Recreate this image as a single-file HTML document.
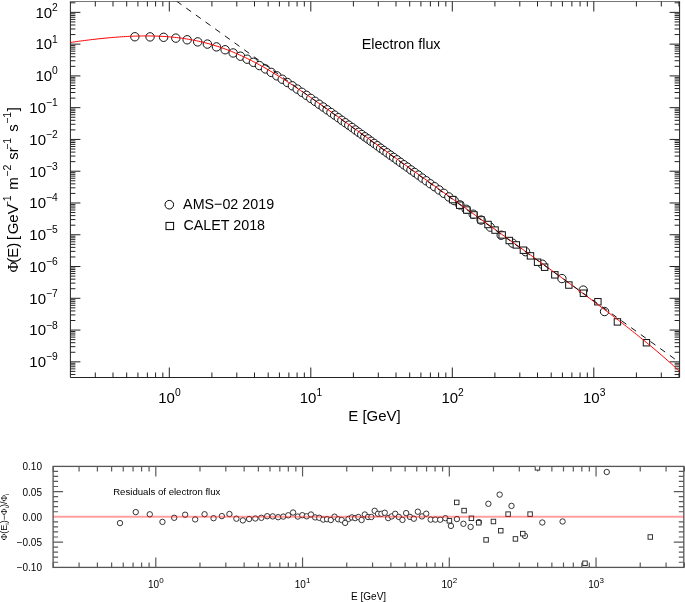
<!DOCTYPE html>
<html><head><meta charset="utf-8"><style>
html,body{margin:0;padding:0;background:#fff;}
svg{display:block;will-change:transform;}
</style></head><body>
<svg width="685" height="602" viewBox="0 0 685 602">
<rect width="685" height="602" fill="#fff"/>
<path d="M70.4 1.5V377.5H679.6V1.5" fill="none" stroke="#222" stroke-width="1"/>
<path d="M69.9 1.5H680.1" fill="none" stroke="#777" stroke-width="1"/>
<path d="M169.3 377.5v-10M169.3 1.5v10M310.8 377.5v-10M310.8 1.5v10M452.3 377.5v-10M452.3 1.5v10M593.8 377.5v-10M593.8 1.5v10M95.31 377.5v-5M95.31 1.5v5M112.99 377.5v-5M112.99 1.5v5M126.7 377.5v-5M126.7 1.5v5M137.91 377.5v-5M137.91 1.5v5M147.38 377.5v-5M147.38 1.5v5M155.59 377.5v-5M155.59 1.5v5M162.83 377.5v-5M162.83 1.5v5M211.9 377.5v-5M211.9 1.5v5M236.81 377.5v-5M236.81 1.5v5M254.49 377.5v-5M254.49 1.5v5M268.2 377.5v-5M268.2 1.5v5M279.41 377.5v-5M279.41 1.5v5M288.88 377.5v-5M288.88 1.5v5M297.09 377.5v-5M297.09 1.5v5M304.33 377.5v-5M304.33 1.5v5M353.4 377.5v-5M353.4 1.5v5M378.31 377.5v-5M378.31 1.5v5M395.99 377.5v-5M395.99 1.5v5M409.7 377.5v-5M409.7 1.5v5M420.91 377.5v-5M420.91 1.5v5M430.38 377.5v-5M430.38 1.5v5M438.59 377.5v-5M438.59 1.5v5M445.83 377.5v-5M445.83 1.5v5M494.9 377.5v-5M494.9 1.5v5M519.81 377.5v-5M519.81 1.5v5M537.49 377.5v-5M537.49 1.5v5M551.2 377.5v-5M551.2 1.5v5M562.41 377.5v-5M562.41 1.5v5M571.88 377.5v-5M571.88 1.5v5M580.09 377.5v-5M580.09 1.5v5M587.33 377.5v-5M587.33 1.5v5M636.4 377.5v-5M636.4 1.5v5M661.31 377.5v-5M661.31 1.5v5M678.99 377.5v-5M678.99 1.5v5M70.4 361.83h10M679.6 361.83h-10M70.4 330.06h10M679.6 330.06h-10M70.4 298.29h10M679.6 298.29h-10M70.4 266.52h10M679.6 266.52h-10M70.4 234.75h10M679.6 234.75h-10M70.4 202.98h10M679.6 202.98h-10M70.4 171.21h10M679.6 171.21h-10M70.4 139.44h10M679.6 139.44h-10M70.4 107.67h10M679.6 107.67h-10M70.4 75.9h10M679.6 75.9h-10M70.4 44.13h10M679.6 44.13h-10M70.4 12.36h10M679.6 12.36h-10M70.4 374.47h5M679.6 374.47h-5M70.4 371.39h5M679.6 371.39h-5M70.4 368.88h5M679.6 368.88h-5M70.4 366.75h5M679.6 366.75h-5M70.4 364.91h5M679.6 364.91h-5M70.4 363.28h5M679.6 363.28h-5M70.4 352.27h5M679.6 352.27h-5M70.4 346.67h5M679.6 346.67h-5M70.4 342.7h5M679.6 342.7h-5M70.4 339.62h5M679.6 339.62h-5M70.4 337.11h5M679.6 337.11h-5M70.4 334.98h5M679.6 334.98h-5M70.4 333.14h5M679.6 333.14h-5M70.4 331.51h5M679.6 331.51h-5M70.4 320.5h5M679.6 320.5h-5M70.4 314.9h5M679.6 314.9h-5M70.4 310.93h5M679.6 310.93h-5M70.4 307.85h5M679.6 307.85h-5M70.4 305.34h5M679.6 305.34h-5M70.4 303.21h5M679.6 303.21h-5M70.4 301.37h5M679.6 301.37h-5M70.4 299.74h5M679.6 299.74h-5M70.4 288.73h5M679.6 288.73h-5M70.4 283.13h5M679.6 283.13h-5M70.4 279.16h5M679.6 279.16h-5M70.4 276.08h5M679.6 276.08h-5M70.4 273.57h5M679.6 273.57h-5M70.4 271.44h5M679.6 271.44h-5M70.4 269.6h5M679.6 269.6h-5M70.4 267.97h5M679.6 267.97h-5M70.4 256.96h5M679.6 256.96h-5M70.4 251.36h5M679.6 251.36h-5M70.4 247.39h5M679.6 247.39h-5M70.4 244.31h5M679.6 244.31h-5M70.4 241.8h5M679.6 241.8h-5M70.4 239.67h5M679.6 239.67h-5M70.4 237.83h5M679.6 237.83h-5M70.4 236.2h5M679.6 236.2h-5M70.4 225.19h5M679.6 225.19h-5M70.4 219.59h5M679.6 219.59h-5M70.4 215.62h5M679.6 215.62h-5M70.4 212.54h5M679.6 212.54h-5M70.4 210.03h5M679.6 210.03h-5M70.4 207.9h5M679.6 207.9h-5M70.4 206.06h5M679.6 206.06h-5M70.4 204.43h5M679.6 204.43h-5M70.4 193.42h5M679.6 193.42h-5M70.4 187.82h5M679.6 187.82h-5M70.4 183.85h5M679.6 183.85h-5M70.4 180.77h5M679.6 180.77h-5M70.4 178.26h5M679.6 178.26h-5M70.4 176.13h5M679.6 176.13h-5M70.4 174.29h5M679.6 174.29h-5M70.4 172.66h5M679.6 172.66h-5M70.4 161.65h5M679.6 161.65h-5M70.4 156.05h5M679.6 156.05h-5M70.4 152.08h5M679.6 152.08h-5M70.4 149h5M679.6 149h-5M70.4 146.49h5M679.6 146.49h-5M70.4 144.36h5M679.6 144.36h-5M70.4 142.52h5M679.6 142.52h-5M70.4 140.89h5M679.6 140.89h-5M70.4 129.88h5M679.6 129.88h-5M70.4 124.28h5M679.6 124.28h-5M70.4 120.31h5M679.6 120.31h-5M70.4 117.23h5M679.6 117.23h-5M70.4 114.72h5M679.6 114.72h-5M70.4 112.59h5M679.6 112.59h-5M70.4 110.75h5M679.6 110.75h-5M70.4 109.12h5M679.6 109.12h-5M70.4 98.11h5M679.6 98.11h-5M70.4 92.51h5M679.6 92.51h-5M70.4 88.54h5M679.6 88.54h-5M70.4 85.46h5M679.6 85.46h-5M70.4 82.95h5M679.6 82.95h-5M70.4 80.82h5M679.6 80.82h-5M70.4 78.98h5M679.6 78.98h-5M70.4 77.35h5M679.6 77.35h-5M70.4 66.34h5M679.6 66.34h-5M70.4 60.74h5M679.6 60.74h-5M70.4 56.77h5M679.6 56.77h-5M70.4 53.69h5M679.6 53.69h-5M70.4 51.18h5M679.6 51.18h-5M70.4 49.05h5M679.6 49.05h-5M70.4 47.21h5M679.6 47.21h-5M70.4 45.58h5M679.6 45.58h-5M70.4 34.57h5M679.6 34.57h-5M70.4 28.97h5M679.6 28.97h-5M70.4 25h5M679.6 25h-5M70.4 21.92h5M679.6 21.92h-5M70.4 19.41h5M679.6 19.41h-5M70.4 17.28h5M679.6 17.28h-5M70.4 15.44h5M679.6 15.44h-5M70.4 13.81h5M679.6 13.81h-5M70.4 2.8h5M679.6 2.8h-5" stroke="#222" stroke-width="1" fill="none"/>
<g font-family='"Liberation Sans", sans-serif' fill="#000">
<text x="57.8" y="367.13" font-size="15" text-anchor="end">10<tspan dy="-6.8" font-size="10.3">−9</tspan></text>
<text x="57.8" y="335.36" font-size="15" text-anchor="end">10<tspan dy="-6.8" font-size="10.3">−8</tspan></text>
<text x="57.8" y="303.59" font-size="15" text-anchor="end">10<tspan dy="-6.8" font-size="10.3">−7</tspan></text>
<text x="57.8" y="271.82" font-size="15" text-anchor="end">10<tspan dy="-6.8" font-size="10.3">−6</tspan></text>
<text x="57.8" y="240.05" font-size="15" text-anchor="end">10<tspan dy="-6.8" font-size="10.3">−5</tspan></text>
<text x="57.8" y="208.28" font-size="15" text-anchor="end">10<tspan dy="-6.8" font-size="10.3">−4</tspan></text>
<text x="57.8" y="176.51" font-size="15" text-anchor="end">10<tspan dy="-6.8" font-size="10.3">−3</tspan></text>
<text x="57.8" y="144.74" font-size="15" text-anchor="end">10<tspan dy="-6.8" font-size="10.3">−2</tspan></text>
<text x="57.8" y="112.97" font-size="15" text-anchor="end">10<tspan dy="-6.8" font-size="10.3">−1</tspan></text>
<text x="57.8" y="81.2" font-size="15" text-anchor="end">10<tspan dy="-6.8" font-size="10.3">0</tspan></text>
<text x="57.8" y="49.43" font-size="15" text-anchor="end">10<tspan dy="-6.8" font-size="10.3">1</tspan></text>
<text x="57.8" y="17.66" font-size="15" text-anchor="end">10<tspan dy="-6.8" font-size="10.3">2</tspan></text>
<text x="169.4" y="402.7" font-size="15" text-anchor="middle">10<tspan dy="-7.0" font-size="10.3">0</tspan></text>
<text x="311" y="402.7" font-size="15" text-anchor="middle">10<tspan dy="-7.0" font-size="10.3">1</tspan></text>
<text x="452.6" y="402.7" font-size="15" text-anchor="middle">10<tspan dy="-7.0" font-size="10.3">2</tspan></text>
<text x="594.2" y="402.7" font-size="15" text-anchor="middle">10<tspan dy="-7.0" font-size="10.3">3</tspan></text>
<text x="374.5" y="420.8" font-size="15" text-anchor="middle">E [GeV]</text>
<text x="401.1" y="48.9" font-size="15" text-anchor="middle" textLength="78.9" lengthAdjust="spacingAndGlyphs">Electron flux</text>
<text transform="translate(17.9,189.9) rotate(-90)" font-size="15" text-anchor="middle"><tspan font-family='"Liberation Serif", serif'>Φ</tspan><tspan dx="-1">(E) </tspan><tspan dx="-1.5">[</tspan><tspan dx="1.5">GeV</tspan><tspan dx="-3" dy="-6.7" font-size="10.5">−1</tspan><tspan dx="1.5" dy="6.7"> m</tspan><tspan dx="0.5" dy="-6.7" font-size="10.5">−2</tspan><tspan dx="0.7" dy="6.7"> sr</tspan><tspan dx="-2.5" dy="-6.7" font-size="10.5">−1</tspan><tspan dx="1.8" dy="6.7"> s</tspan><tspan dx="0.5" dy="-6.7" font-size="10.5">−1</tspan><tspan dx="0.5" dy="6.7">]</tspan></text>
<text x="183.1" y="209" font-size="15" textLength="91" lengthAdjust="spacingAndGlyphs">AMS−02 2019</text>
<text x="183.4" y="229.6" font-size="15" textLength="81.7" lengthAdjust="spacingAndGlyphs">CALET 2018</text>
</g>
<circle cx="169.3" cy="204.7" r="4.3" fill="none" stroke="#000" stroke-width="1"/>
<rect x="166" y="222.4" width="7.6" height="7.2" fill="none" stroke="#000" stroke-width="1"/>
<clipPath id="cm"><rect x="70.4" y="1.5" width="609.20" height="376.00"/></clipPath>
<g clip-path="url(#cm)">
<circle cx="134.84" cy="36.76" r="4.2" fill="#fff" stroke="#111" stroke-width="1"/>
<circle cx="150.05" cy="36.89" r="4.2" fill="#fff" stroke="#111" stroke-width="1"/>
<circle cx="163.6" cy="37.31" r="4.2" fill="#fff" stroke="#111" stroke-width="1"/>
<circle cx="175.82" cy="38.13" r="4.2" fill="#fff" stroke="#111" stroke-width="1"/>
<circle cx="187.15" cy="39.79" r="4.2" fill="#fff" stroke="#111" stroke-width="1"/>
<circle cx="197.71" cy="41.88" r="4.2" fill="#fff" stroke="#111" stroke-width="1"/>
<circle cx="207.39" cy="44.09" r="4.2" fill="#fff" stroke="#111" stroke-width="1"/>
<circle cx="216.46" cy="46.89" r="4.2" fill="#fff" stroke="#111" stroke-width="1"/>
<circle cx="225.11" cy="49.76" r="4.2" fill="#fff" stroke="#111" stroke-width="1"/>
<circle cx="233.15" cy="52.96" r="4.2" fill="#fff" stroke="#111" stroke-width="1"/>
<circle cx="240.45" cy="56.18" r="4.2" fill="#fff" stroke="#111" stroke-width="1"/>
<circle cx="247.14" cy="59.2" r="4.2" fill="#fff" stroke="#111" stroke-width="1"/>
<circle cx="253.41" cy="62.32" r="4.2" fill="#fff" stroke="#111" stroke-width="1"/>
<circle cx="259.45" cy="65.59" r="4.2" fill="#fff" stroke="#111" stroke-width="1"/>
<circle cx="265.41" cy="68.95" r="4.2" fill="#fff" stroke="#111" stroke-width="1"/>
<circle cx="271.25" cy="72.4" r="4.2" fill="#fff" stroke="#111" stroke-width="1"/>
<circle cx="276.85" cy="75.86" r="4.2" fill="#fff" stroke="#111" stroke-width="1"/>
<circle cx="282.24" cy="79.23" r="4.2" fill="#fff" stroke="#111" stroke-width="1"/>
<circle cx="287.41" cy="82.54" r="4.2" fill="#fff" stroke="#111" stroke-width="1"/>
<circle cx="292.39" cy="85.83" r="4.2" fill="#fff" stroke="#111" stroke-width="1"/>
<circle cx="297.19" cy="89.07" r="4.2" fill="#fff" stroke="#111" stroke-width="1"/>
<circle cx="301.86" cy="92.31" r="4.2" fill="#fff" stroke="#111" stroke-width="1"/>
<circle cx="306.4" cy="95.32" r="4.2" fill="#fff" stroke="#111" stroke-width="1"/>
<circle cx="310.78" cy="98.39" r="4.2" fill="#fff" stroke="#111" stroke-width="1"/>
<circle cx="315.01" cy="101.31" r="4.2" fill="#fff" stroke="#111" stroke-width="1"/>
<circle cx="319.13" cy="104.25" r="4.2" fill="#fff" stroke="#111" stroke-width="1"/>
<circle cx="323.17" cy="107.02" r="4.2" fill="#fff" stroke="#111" stroke-width="1"/>
<circle cx="327.1" cy="109.8" r="4.2" fill="#fff" stroke="#111" stroke-width="1"/>
<circle cx="330.91" cy="112.45" r="4.2" fill="#fff" stroke="#111" stroke-width="1"/>
<circle cx="334.64" cy="115.12" r="4.2" fill="#fff" stroke="#111" stroke-width="1"/>
<circle cx="338.3" cy="117.7" r="4.2" fill="#fff" stroke="#111" stroke-width="1"/>
<circle cx="341.86" cy="120.34" r="4.2" fill="#fff" stroke="#111" stroke-width="1"/>
<circle cx="345.35" cy="122.76" r="4.2" fill="#fff" stroke="#111" stroke-width="1"/>
<circle cx="348.76" cy="125.18" r="4.2" fill="#fff" stroke="#111" stroke-width="1"/>
<circle cx="352.09" cy="127.48" r="4.2" fill="#fff" stroke="#111" stroke-width="1"/>
<circle cx="355.38" cy="129.94" r="4.2" fill="#fff" stroke="#111" stroke-width="1"/>
<circle cx="358.59" cy="132.29" r="4.2" fill="#fff" stroke="#111" stroke-width="1"/>
<circle cx="361.76" cy="134.53" r="4.2" fill="#fff" stroke="#111" stroke-width="1"/>
<circle cx="364.87" cy="136.79" r="4.2" fill="#fff" stroke="#111" stroke-width="1"/>
<circle cx="367.96" cy="138.93" r="4.2" fill="#fff" stroke="#111" stroke-width="1"/>
<circle cx="371.09" cy="141.31" r="4.2" fill="#fff" stroke="#111" stroke-width="1"/>
<circle cx="374.22" cy="143.49" r="4.2" fill="#fff" stroke="#111" stroke-width="1"/>
<circle cx="377.39" cy="145.76" r="4.2" fill="#fff" stroke="#111" stroke-width="1"/>
<circle cx="380.59" cy="148.22" r="4.2" fill="#fff" stroke="#111" stroke-width="1"/>
<circle cx="383.79" cy="150.44" r="4.2" fill="#fff" stroke="#111" stroke-width="1"/>
<circle cx="387.04" cy="152.76" r="4.2" fill="#fff" stroke="#111" stroke-width="1"/>
<circle cx="390.32" cy="155.15" r="4.2" fill="#fff" stroke="#111" stroke-width="1"/>
<circle cx="393.64" cy="157.38" r="4.2" fill="#fff" stroke="#111" stroke-width="1"/>
<circle cx="396.99" cy="159.83" r="4.2" fill="#fff" stroke="#111" stroke-width="1"/>
<circle cx="400.4" cy="162.34" r="4.2" fill="#fff" stroke="#111" stroke-width="1"/>
<circle cx="403.86" cy="164.74" r="4.2" fill="#fff" stroke="#111" stroke-width="1"/>
<circle cx="407.37" cy="167.17" r="4.2" fill="#fff" stroke="#111" stroke-width="1"/>
<circle cx="410.96" cy="169.93" r="4.2" fill="#fff" stroke="#111" stroke-width="1"/>
<circle cx="414.63" cy="172.46" r="4.2" fill="#fff" stroke="#111" stroke-width="1"/>
<circle cx="418.38" cy="175.1" r="4.2" fill="#fff" stroke="#111" stroke-width="1"/>
<circle cx="422.25" cy="178.06" r="4.2" fill="#fff" stroke="#111" stroke-width="1"/>
<circle cx="426.23" cy="180.79" r="4.2" fill="#fff" stroke="#111" stroke-width="1"/>
<circle cx="430.34" cy="183.81" r="4.2" fill="#fff" stroke="#111" stroke-width="1"/>
<circle cx="434.63" cy="186.73" r="4.2" fill="#fff" stroke="#111" stroke-width="1"/>
<circle cx="439.11" cy="189.94" r="4.2" fill="#fff" stroke="#111" stroke-width="1"/>
<circle cx="443.83" cy="193.32" r="4.2" fill="#fff" stroke="#111" stroke-width="1"/>
<circle cx="448.83" cy="196.95" r="4.2" fill="#fff" stroke="#111" stroke-width="1"/>
<circle cx="454.17" cy="200.57" r="4.2" fill="#fff" stroke="#111" stroke-width="1"/>
<circle cx="459.93" cy="204.9" r="4.2" fill="#fff" stroke="#111" stroke-width="1"/>
<circle cx="466.21" cy="209.28" r="4.2" fill="#fff" stroke="#111" stroke-width="1"/>
<circle cx="473.18" cy="214.2" r="4.2" fill="#fff" stroke="#111" stroke-width="1"/>
<circle cx="481.13" cy="220.05" r="4.2" fill="#fff" stroke="#111" stroke-width="1"/>
<circle cx="490.3" cy="227.14" r="4.2" fill="#fff" stroke="#111" stroke-width="1"/>
<circle cx="501.19" cy="235.23" r="4.2" fill="#fff" stroke="#111" stroke-width="1"/>
<circle cx="512.61" cy="243.17" r="4.2" fill="#fff" stroke="#111" stroke-width="1"/>
<circle cx="525.57" cy="251.7" r="4.2" fill="#fff" stroke="#111" stroke-width="1"/>
<circle cx="542.32" cy="264.23" r="4.2" fill="#fff" stroke="#111" stroke-width="1"/>
<circle cx="561.92" cy="278.56" r="4.2" fill="#fff" stroke="#111" stroke-width="1"/>
<circle cx="583.23" cy="290.1" r="4.2" fill="#fff" stroke="#111" stroke-width="1"/>
<circle cx="604.55" cy="311.57" r="4.2" fill="#fff" stroke="#111" stroke-width="1"/>
<rect x="449.4" y="196.39" width="6.4" height="6.4" fill="#fff" stroke="#111" stroke-width="1"/>
<rect x="456.48" y="201.97" width="6.4" height="6.4" fill="#fff" stroke="#111" stroke-width="1"/>
<rect x="463.56" y="206.83" width="6.4" height="6.4" fill="#fff" stroke="#111" stroke-width="1"/>
<rect x="470.64" y="211.71" width="6.4" height="6.4" fill="#fff" stroke="#111" stroke-width="1"/>
<rect x="477.72" y="216.68" width="6.4" height="6.4" fill="#fff" stroke="#111" stroke-width="1"/>
<rect x="484.8" y="221.29" width="6.4" height="6.4" fill="#fff" stroke="#111" stroke-width="1"/>
<rect x="491.88" y="226.9" width="6.4" height="6.4" fill="#fff" stroke="#111" stroke-width="1"/>
<rect x="498.96" y="231.75" width="6.4" height="6.4" fill="#fff" stroke="#111" stroke-width="1"/>
<rect x="506.04" y="237.31" width="6.4" height="6.4" fill="#fff" stroke="#111" stroke-width="1"/>
<rect x="513.12" y="241.73" width="6.4" height="6.4" fill="#fff" stroke="#111" stroke-width="1"/>
<rect x="520.2" y="247" width="6.4" height="6.4" fill="#fff" stroke="#111" stroke-width="1"/>
<rect x="527.28" y="252.67" width="6.4" height="6.4" fill="#fff" stroke="#111" stroke-width="1"/>
<rect x="534.36" y="259.01" width="6.4" height="6.4" fill="#fff" stroke="#111" stroke-width="1"/>
<rect x="541.44" y="264" width="6.4" height="6.4" fill="#fff" stroke="#111" stroke-width="1"/>
<rect x="551.64" y="271.65" width="6.4" height="6.4" fill="#fff" stroke="#111" stroke-width="1"/>
<rect x="565.65" y="281.85" width="6.4" height="6.4" fill="#fff" stroke="#111" stroke-width="1"/>
<rect x="580.24" y="290.03" width="6.4" height="6.4" fill="#fff" stroke="#111" stroke-width="1"/>
<rect x="594.68" y="298.55" width="6.4" height="6.4" fill="#fff" stroke="#111" stroke-width="1"/>
<rect x="614.22" y="318.7" width="6.4" height="6.4" fill="#fff" stroke="#111" stroke-width="1"/>
<rect x="643.25" y="339.54" width="6.4" height="6.4" fill="#fff" stroke="#111" stroke-width="1"/>
<polyline points="70.43,42.44 72.46,42.14 74.5,41.86 76.54,41.57 78.57,41.29 80.61,41.02 82.65,40.75 84.68,40.49 86.72,40.23 88.76,39.97 90.79,39.73 92.83,39.48 94.87,39.25 96.91,39.02 98.94,38.79 100.98,38.58 103.02,38.37 105.05,38.16 107.09,37.97 109.13,37.78 111.16,37.6 113.2,37.42 115.24,37.26 117.27,37.1 119.31,36.95 121.35,36.81 123.38,36.68 125.42,36.56 127.46,36.45 129.5,36.35 131.53,36.26 133.57,36.18 135.61,36.11 137.64,36.05 139.68,36.01 141.72,35.97 143.75,35.95 145.79,35.94 147.83,35.94 149.86,35.96 151.9,35.99 153.94,36.03 155.97,36.09 158.01,36.16 160.05,36.25 162.09,36.35 164.12,36.47 166.16,36.6 168.2,36.76 170.23,36.92 172.27,37.11 174.31,37.31 176.34,37.53 178.38,37.77 180.42,38.03 182.45,38.31 184.49,38.6 186.53,38.92 188.56,39.25 190.6,39.61 192.64,39.99 194.68,40.39 196.71,40.8 198.75,41.25 200.79,41.71 202.82,42.19 204.86,42.7 206.9,43.23 208.93,43.78 210.97,44.36 213.01,44.96 215.04,45.58 217.08,46.23 219.12,46.89 221.15,47.59 223.19,48.3 225.23,49.04 227.27,49.8 229.3,50.59 231.34,51.4 233.38,52.23 235.41,53.09 237.45,53.97 239.49,54.87 241.52,55.79 243.56,56.74 245.6,57.71 247.63,58.7 249.67,59.71 251.71,60.74 253.74,61.79 255.78,62.87 257.82,63.96 259.86,65.07 261.89,66.2 263.93,67.35 265.97,68.52 268,69.71 270.04,70.91 272.08,72.12 274.11,73.36 276.15,74.61 278.19,75.87 280.22,77.14 282.26,78.43 284.3,79.74 286.33,81.05 288.37,82.38 290.41,83.71 292.45,85.06 294.48,86.41 296.52,87.78 298.56,89.15 300.59,90.53 302.63,91.92 304.67,93.32 306.7,94.72 308.74,96.13 310.78,97.54 312.81,98.96 314.85,100.39 316.89,101.81 318.92,103.25 320.96,104.68 323,106.12 325.04,107.56 327.07,109 329.11,110.45 331.15,111.89 333.18,113.34 335.22,114.79 337.26,116.25 339.29,117.7 341.33,119.15 343.37,120.61 345.4,122.06 347.44,123.52 349.48,124.98 351.51,126.44 353.55,127.89 355.59,129.35 357.63,130.81 359.66,132.27 361.7,133.73 363.74,135.19 365.77,136.65 367.81,138.1 369.85,139.56 371.88,141.02 373.92,142.48 375.96,143.94 377.99,145.4 380.03,146.86 382.07,148.32 384.1,149.78 386.14,151.24 388.18,152.7 390.22,154.16 392.25,155.62 394.29,157.08 396.33,158.54 398.36,160 400.4,161.46 402.44,162.92 404.47,164.38 406.51,165.84 408.55,167.3 410.58,168.76 412.62,170.22 414.66,171.68 416.69,173.14 418.73,174.6 420.77,176.06 422.81,177.52 424.84,178.98 426.88,180.44 428.92,181.91 430.95,183.37 432.99,184.83 435.03,186.29 437.06,187.75 439.1,189.21 441.14,190.67 443.17,192.13 445.21,193.59 447.25,195.06 449.28,196.52 451.32,197.98 453.36,199.44 455.4,200.9 457.43,202.37 459.47,203.83 461.51,205.29 463.54,206.76 465.58,208.22 467.62,209.68 469.65,211.14 471.69,212.61 473.73,214.07 475.76,215.54 477.8,217 479.84,218.47 481.87,219.93 483.91,221.39 485.95,222.86 487.99,224.33 490.02,225.79 492.06,227.26 494.1,228.72 496.13,230.19 498.17,231.66 500.21,233.13 502.24,234.59 504.28,236.06 506.32,237.53 508.35,239 510.39,240.47 512.43,241.94 514.46,243.41 516.5,244.88 518.54,246.35 520.58,247.83 522.61,249.3 524.65,250.77 526.69,252.25 528.72,253.72 530.76,255.2 532.8,256.67 534.83,258.15 536.87,259.63 538.91,261.11 540.94,262.59 542.98,264.07 545.02,265.55 547.05,267.03 549.09,268.52 551.13,270 553.17,271.49 555.2,272.98 557.24,274.47 559.28,275.96 561.31,277.45 563.35,278.94 565.39,280.44 567.42,281.93 569.46,283.43 571.5,284.93 573.53,286.43 575.57,287.94 577.61,289.44 579.64,290.95 581.68,292.46 583.72,293.97 585.76,295.49 587.79,297 589.83,298.52 591.87,300.04 593.9,301.57 595.94,303.1 597.98,304.63 600.01,306.17 602.05,307.7 604.09,309.25 606.12,310.79 608.16,312.34 610.2,313.9 612.23,315.45 614.27,317.02 616.31,318.58 618.35,320.16 620.38,321.74 622.42,323.32 624.46,324.91 626.49,326.5 628.53,328.1 630.57,329.71 632.6,331.32 634.64,332.95 636.68,334.57 638.71,336.21 640.75,337.85 642.79,339.51 644.82,341.17 646.86,342.84 648.9,344.52 650.94,346.21 652.97,347.91 655.01,349.62 657.05,351.35 659.08,353.08 661.12,354.83 663.16,356.59 665.19,358.37 667.23,360.16 669.27,361.96 671.3,363.78 673.34,365.62 675.38,367.47 677.41,369.35 679.45,371.24" fill="none" stroke="#ff0000" stroke-width="1"/>
<line x1="176.5" y1="1.11" x2="679.6" y2="362.44" stroke="#111" stroke-width="1" stroke-dasharray="6.1 5.81"/>
</g>
<rect x="53.1" y="466.4" width="630.70" height="101.00" fill="none" stroke="#555" stroke-width="1.3"/>
<path d="M155.8 567.4v-10M155.8 466.4v10M302.55 567.4v-10M302.55 466.4v10M449.3 567.4v-10M449.3 466.4v10M596.05 567.4v-10M596.05 466.4v10M53.23 567.4v-5M53.23 466.4v5M79.07 567.4v-5M79.07 466.4v5M97.4 567.4v-5M97.4 466.4v5M111.62 567.4v-5M111.62 466.4v5M123.24 567.4v-5M123.24 466.4v5M133.07 567.4v-5M133.07 466.4v5M141.58 567.4v-5M141.58 466.4v5M149.09 567.4v-5M149.09 466.4v5M199.98 567.4v-5M199.98 466.4v5M225.82 567.4v-5M225.82 466.4v5M244.15 567.4v-5M244.15 466.4v5M258.37 567.4v-5M258.37 466.4v5M269.99 567.4v-5M269.99 466.4v5M279.82 567.4v-5M279.82 466.4v5M288.33 567.4v-5M288.33 466.4v5M295.84 567.4v-5M295.84 466.4v5M346.73 567.4v-5M346.73 466.4v5M372.57 567.4v-5M372.57 466.4v5M390.9 567.4v-5M390.9 466.4v5M405.12 567.4v-5M405.12 466.4v5M416.74 567.4v-5M416.74 466.4v5M426.57 567.4v-5M426.57 466.4v5M435.08 567.4v-5M435.08 466.4v5M442.59 567.4v-5M442.59 466.4v5M493.48 567.4v-5M493.48 466.4v5M519.32 567.4v-5M519.32 466.4v5M537.65 567.4v-5M537.65 466.4v5M551.87 567.4v-5M551.87 466.4v5M563.49 567.4v-5M563.49 466.4v5M573.32 567.4v-5M573.32 466.4v5M581.83 567.4v-5M581.83 466.4v5M589.34 567.4v-5M589.34 466.4v5M640.23 567.4v-5M640.23 466.4v5M666.07 567.4v-5M666.07 466.4v5M684.4 567.4v-5M684.4 466.4v5M53.1 562.25h5M683.8 562.25h-5M53.1 557.2h5M683.8 557.2h-5M53.1 552.15h5M683.8 552.15h-5M53.1 547.1h5M683.8 547.1h-5M53.1 542.05h10M683.8 542.05h-10M53.1 537h5M683.8 537h-5M53.1 531.95h5M683.8 531.95h-5M53.1 526.9h5M683.8 526.9h-5M53.1 521.85h5M683.8 521.85h-5M53.1 511.75h5M683.8 511.75h-5M53.1 506.7h5M683.8 506.7h-5M53.1 501.65h5M683.8 501.65h-5M53.1 496.6h5M683.8 496.6h-5M53.1 491.55h10M683.8 491.55h-10M53.1 486.5h5M683.8 486.5h-5M53.1 481.45h5M683.8 481.45h-5M53.1 476.4h5M683.8 476.4h-5M53.1 471.35h5M683.8 471.35h-5" stroke="#5a5a5a" stroke-width="1.2" fill="none"/>
<clipPath id="cr"><rect x="53.1" y="466.4" width="630.70" height="101.00"/></clipPath>
<g clip-path="url(#cr)" fill="#fff" stroke="#2a2a2a" stroke-width="0.95">
<circle cx="119.98" cy="523.1" r="2.7"/>
<circle cx="135.75" cy="512.1" r="2.7"/>
<circle cx="149.79" cy="514.3" r="2.7"/>
<circle cx="162.45" cy="521.9" r="2.7"/>
<circle cx="174.2" cy="517.8" r="2.7"/>
<circle cx="185.14" cy="514.7" r="2.7"/>
<circle cx="195.17" cy="519.4" r="2.7"/>
<circle cx="204.57" cy="514.25" r="2.7"/>
<circle cx="213.54" cy="518.2" r="2.7"/>
<circle cx="221.86" cy="516.1" r="2.7"/>
<circle cx="229.43" cy="514" r="2.7"/>
<circle cx="236.37" cy="518.7" r="2.7"/>
<circle cx="242.87" cy="520.4" r="2.7"/>
<circle cx="249.13" cy="519" r="2.7"/>
<circle cx="255.3" cy="518.5" r="2.7"/>
<circle cx="261.35" cy="517.8" r="2.7"/>
<circle cx="267.16" cy="516.2" r="2.7"/>
<circle cx="272.74" cy="516.4" r="2.7"/>
<circle cx="278.1" cy="517.2" r="2.7"/>
<circle cx="283.27" cy="516.6" r="2.7"/>
<circle cx="288.24" cy="515.3" r="2.7"/>
<circle cx="293.08" cy="512.5" r="2.7"/>
<circle cx="297.78" cy="516.55" r="2.7"/>
<circle cx="302.32" cy="515.2" r="2.7"/>
<circle cx="306.71" cy="516.3" r="2.7"/>
<circle cx="310.98" cy="514.5" r="2.7"/>
<circle cx="315.16" cy="517.4" r="2.7"/>
<circle cx="319.24" cy="517.8" r="2.7"/>
<circle cx="323.19" cy="519.6" r="2.7"/>
<circle cx="327.05" cy="519.2" r="2.7"/>
<circle cx="330.84" cy="520" r="2.7"/>
<circle cx="334.54" cy="516.7" r="2.7"/>
<circle cx="338.15" cy="519.25" r="2.7"/>
<circle cx="341.68" cy="520" r="2.7"/>
<circle cx="345.14" cy="522.9" r="2.7"/>
<circle cx="348.54" cy="518.9" r="2.7"/>
<circle cx="351.87" cy="517.4" r="2.7"/>
<circle cx="355.15" cy="518.1" r="2.7"/>
<circle cx="358.38" cy="517" r="2.7"/>
<circle cx="361.59" cy="520" r="2.7"/>
<circle cx="364.82" cy="514.5" r="2.7"/>
<circle cx="368.07" cy="517" r="2.7"/>
<circle cx="371.36" cy="517" r="2.7"/>
<circle cx="374.67" cy="510.8" r="2.7"/>
<circle cx="377.99" cy="513.8" r="2.7"/>
<circle cx="381.35" cy="513.8" r="2.7"/>
<circle cx="384.75" cy="512.75" r="2.7"/>
<circle cx="388.19" cy="518.1" r="2.7"/>
<circle cx="391.67" cy="516.4" r="2.7"/>
<circle cx="395.2" cy="513.8" r="2.7"/>
<circle cx="398.79" cy="516.9" r="2.7"/>
<circle cx="402.43" cy="519.9" r="2.7"/>
<circle cx="406.15" cy="513.1" r="2.7"/>
<circle cx="409.95" cy="516.9" r="2.7"/>
<circle cx="413.84" cy="518.7" r="2.7"/>
<circle cx="417.84" cy="511.7" r="2.7"/>
<circle cx="421.97" cy="516.4" r="2.7"/>
<circle cx="426.23" cy="513.7" r="2.7"/>
<circle cx="430.68" cy="519.6" r="2.7"/>
<circle cx="435.32" cy="519.6" r="2.7"/>
<circle cx="440.21" cy="519.7" r="2.7"/>
<circle cx="445.39" cy="518.2" r="2.7"/>
<circle cx="450.93" cy="525.9" r="2.7"/>
<circle cx="456.9" cy="519.05" r="2.7"/>
<circle cx="463.41" cy="523.8" r="2.7"/>
<circle cx="470.63" cy="526.9" r="2.7"/>
<circle cx="478.86" cy="522.1" r="2.7"/>
<circle cx="488.37" cy="503.8" r="2.7"/>
<circle cx="499.66" cy="494.6" r="2.7"/>
<circle cx="511.5" cy="505.9" r="2.7"/>
<circle cx="524.92" cy="535.9" r="2.7"/>
<circle cx="542.28" cy="522.5" r="2.7"/>
<circle cx="562.6" cy="521.5" r="2.7"/>
<circle cx="606.77" cy="472" r="2.7"/>
<rect x="447.15" y="518.54" width="4.5" height="4.5"/>
<rect x="454.49" y="500.16" width="4.5" height="4.5"/>
<rect x="461.83" y="508.34" width="4.5" height="4.5"/>
<rect x="469.16" y="516.06" width="4.5" height="4.5"/>
<rect x="476.5" y="520.46" width="4.5" height="4.5"/>
<rect x="483.84" y="537.63" width="4.5" height="4.5"/>
<rect x="491.18" y="519.25" width="4.5" height="4.5"/>
<rect x="498.51" y="528.44" width="4.5" height="4.5"/>
<rect x="505.85" y="511.87" width="4.5" height="4.5"/>
<rect x="513.19" y="536.67" width="4.5" height="4.5"/>
<rect x="520.52" y="531.37" width="4.5" height="4.5"/>
<rect x="527.86" y="511.87" width="4.5" height="4.5"/>
<rect x="535.2" y="465.56" width="4.5" height="4.5"/>
<rect x="582.75" y="561.01" width="4.5" height="4.5"/>
<rect x="648.05" y="534.75" width="4.5" height="4.5"/>
</g>
<line x1="53.1" y1="516.8" x2="683.8" y2="516.8" stroke="rgba(255,0,0,0.38)" stroke-width="2"/>
<g font-family='"Liberation Sans", sans-serif' fill="#000">
<text x="42" y="470.3" font-size="10" text-anchor="end">0.10</text>
<text x="42" y="495.55" font-size="10" text-anchor="end">0.05</text>
<text x="42" y="520.8" font-size="10" text-anchor="end">0.00</text>
<text x="42" y="546.05" font-size="10" text-anchor="end">−0.05</text>
<text x="42" y="571.3" font-size="10" text-anchor="end">−0.10</text>
<text x="155.8" y="587.8" font-size="10" text-anchor="middle">10<tspan dy="-4.8" font-size="8">0</tspan></text>
<text x="302.55" y="587.8" font-size="10" text-anchor="middle">10<tspan dy="-4.8" font-size="8">1</tspan></text>
<text x="449.3" y="587.8" font-size="10" text-anchor="middle">10<tspan dy="-4.8" font-size="8">2</tspan></text>
<text x="596.05" y="587.8" font-size="10" text-anchor="middle">10<tspan dy="-4.8" font-size="8">3</tspan></text>
<text x="368.6" y="600.3" font-size="10" text-anchor="middle">E [GeV]</text>
<text x="113.2" y="495.2" font-size="9.6">Residuals of electron flux</text>
<text transform="translate(7.2,516.9) rotate(-90)" font-size="9" text-anchor="middle"><tspan font-family='"Liberation Serif", serif'>Φ</tspan>(E<tspan dy="2" font-size="6.2">i</tspan><tspan dy="-2">)−</tspan><tspan font-family='"Liberation Serif", serif'>Φ</tspan><tspan dy="2" font-size="6.2">i</tspan><tspan dy="-2">)/</tspan><tspan font-family='"Liberation Serif", serif'>Φ</tspan><tspan dy="2" font-size="6.2">i</tspan></text>
</g>
</svg>
</body></html>
